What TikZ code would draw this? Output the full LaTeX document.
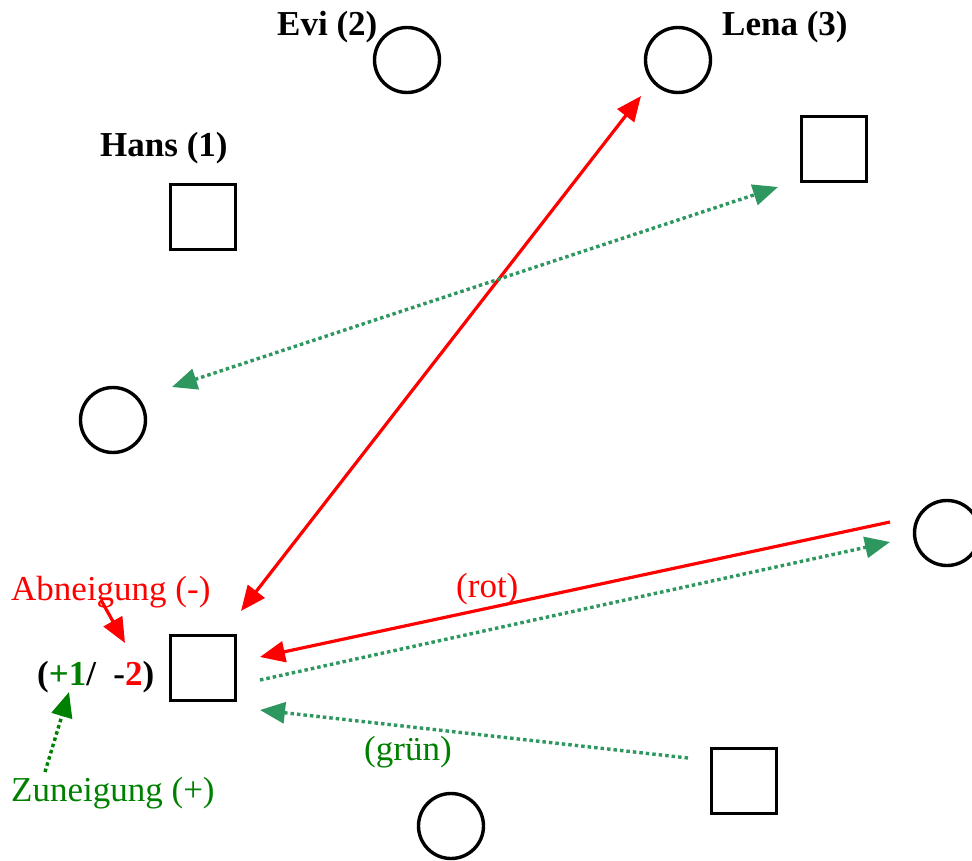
\documentclass[tikz,border=0pt]{standalone}
\usepackage{fontspec}
\setmainfont{Liberation Serif}
\usetikzlibrary{arrows.meta}
\definecolor{myred}{RGB}{255,0,0}
\definecolor{mygreen}{RGB}{0,128,0}
\definecolor{dotgreen}{RGB}{46,150,95}
\begin{document}
\begin{tikzpicture}[x=1pt,y=-1pt,
  person/.style={draw=black, line width=3.4pt, minimum size=65pt, inner sep=0pt},
  fem/.style={person, circle},
  male/.style={person, rectangle},
  lbl/.style={font=\fontsize{35}{42}\selectfont, inner sep=0pt, anchor=base west},
  blbl/.style={lbl, font=\fontsize{35}{42}\selectfont\bfseries},
  tipr/.style={-{Triangle[length=25pt,width=21pt]}},
  redarr/.style={draw=myred, line width=3.2pt},
  grnarr/.style={draw=dotgreen, line width=3.4pt, dash pattern=on 3.5pt off 3pt},
  smallgrn/.style={draw=mygreen, line width=3.4pt, dash pattern=on 3.5pt off 3pt}
]
\useasboundingbox (0,0) rectangle (972,861);

% persons
\node[fem]  (evi)   at (407,60) {};
\node[fem]  (lena)  at (678,60) {};
\node[male] (hans)  at (203,217) {};
\node[male] (mtr)   at (834,149) {};
\node[fem]  (fl)    at (113,420) {};
\node[fem]  (fr)    at (947,533) {};
\node[male] (ego)   at (203,668) {};
\node[male] (mb)    at (744,781) {};
\node[fem]  (fb)    at (451,826) {};

% names
\node[blbl] (tevi)  at (277,36) {Evi (2)};
\node[blbl] (tlena) at (722,36) {Lena (3)};
\node[blbl] (thans) at (100,157) {Hans (1)};

% labels
\node[lbl, text=myred]   (tab)  at (11,600) {Abneigung (-)};
\node[lbl, text=mygreen] (tzu)  at (11,801) {Zuneigung (+)};
\node[lbl, text=myred]   (trot) at (456,597) {(rot)};
\node[lbl, text=mygreen] (tgr)  at (364,760) {(grün)};
\node[blbl] (tval) at (37,685) {(\textcolor{mygreen}{+1}/\ \ -\textcolor{myred}{2})};

% connector end points
\coordinate (a1) at (241,611);
\coordinate (a2) at (641,96);
\coordinate (b1) at (172,387);
\coordinate (b2) at (778,187);
\coordinate (c1) at (890,522);
\coordinate (c2) at (260,657);
\coordinate (d1) at (260,680);
\coordinate (d2) at (890,542);
\coordinate (e1) at (688,758);
\coordinate (e2) at (260,710);
\coordinate (f1) at (101,600);
\coordinate (f2) at (125,643);
\coordinate (g1) at (45,772);
\coordinate (g2) at (69,692);

\draw[redarr, {Triangle[length=25pt,width=21pt]}-{Triangle[length=25pt,width=21pt]}] (a1) -- (a2);
\draw[grnarr, {Triangle[length=25pt,width=21pt]}-{Triangle[length=25pt,width=21pt]}] (b1) -- (b2);
\draw[redarr, tipr] (c1) -- (c2);
\draw[grnarr, tipr] (d1) -- (d2);
\draw[grnarr, tipr] (e1) -- (e2);
\draw[redarr, tipr] (f1) -- (f2);
\draw[smallgrn, tipr] (g1) -- (g2);
\end{tikzpicture}
\end{document}
